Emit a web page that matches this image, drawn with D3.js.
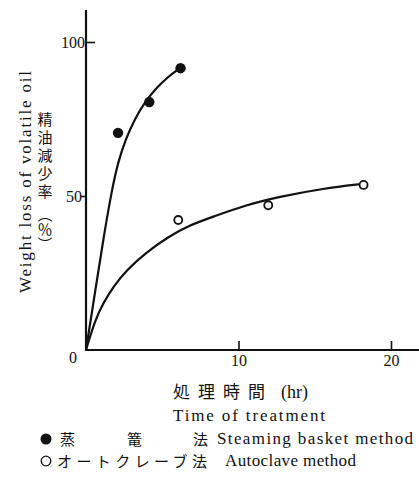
<!DOCTYPE html>
<html>
<head>
<meta charset="utf-8">
<script src="https://cdn.jsdelivr.net/npm/d3@7"></script>
<style>
  body { margin: 0; background: #fff; }
  .serif { font-family: "Liberation Serif", "DejaVu Serif", serif; fill: #111; }
  .jp { font-family: "Noto Sans CJK JP", sans-serif; fill: #111; }
  .vert { writing-mode: vertical-rl; }
</style>
</head>
<body>
<div class="chart"></div>
<script>
// measured points (hr, %)
var steamT = [2.1, 4.15, 6.2];
var steamV = [70.5, 80.5, 91.5];
var autoT = [6.05, 11.95, 18.2];
var autoV = [42.2, 47.0, 53.6];

// hand drawn fitting curves
var steamCurveT = [0, 0.6, 1.2, 1.7, 2.1, 2.6, 3.2, 3.87, 4.68, 5.33, 6.16];
var steamCurveV = [0, 19, 38, 52, 61, 68.5, 75, 80.6, 85.4, 88.5, 91.5];
var autoCurveT = [0, 0.59, 1.13, 1.79, 2.67, 3.87, 5.4, 6.82, 8.35, 10.5, 12.7, 15.6, 18.1];
var autoCurveV = [0, 9.7, 15.2, 20.6, 26, 31.4, 36.8, 40.6, 43.3, 47.1, 49.8, 52.5, 53.9];

var xTicks = [10, 20];
var yTicks = [50, 100];

var svgWidth = 419;
var svgHeight = 483;

var svg = d3.select(".chart")
  .append("svg")
  .attr("width", svgWidth)
  .attr("height", svgHeight);

var x = d3.scaleLinear().domain([0, 20]).range([86, 391]);
var y = d3.scaleLinear().domain([0, 100]).range([350, 42]);

// axes lines (drawn past the last tick like the original)
svg.append("line")
  .attr("x1", x(0)).attr("x2", x(0))
  .attr("y1", y(0) + 1).attr("y2", y(110.4))
  .attr("stroke", "#111").attr("stroke-width", 2.2);
svg.append("line")
  .attr("x1", x(0) - 1).attr("x2", x(21.9))
  .attr("y1", y(0)).attr("y2", y(0))
  .attr("stroke", "#111").attr("stroke-width", 2.2);

// x ticks point up into the plot
var xAxis = d3.axisBottom(x).tickValues(xTicks).tickSizeInner(-9).tickSizeOuter(0).tickPadding(5);
var gx = svg.append("g").attr("transform", `translate(0, ${y(0)})`).call(xAxis);
gx.select(".domain").remove();
gx.selectAll("line").attr("stroke", "#111").attr("stroke-width", 1.6);
gx.selectAll("text").attr("class", "serif").style("font-size", "16px").attr("fill", "#111");

// y ticks: 100 points in, 50 points out
var yAxis = d3.axisLeft(y).tickValues(yTicks).tickSizeOuter(0).tickSize(0).tickPadding(1);
var gy = svg.append("g").attr("transform", `translate(${x(0)}, 0)`).call(yAxis);
gy.select(".domain").remove();
gy.selectAll("text").attr("class", "serif").style("font-size", "16px").attr("fill", "#111");
gy.selectAll(".tick line")
  .attr("x1", d => d == 100 ? 0 : -5)
  .attr("x2", d => d == 100 ? 9 : 0)
  .attr("stroke", "#111").attr("stroke-width", 1.6);
gy.selectAll(".tick").filter(d => d == 50).select("text").attr("x", -4);

svg.append("text").attr("class", "serif")
  .attr("x", 73).attr("y", 363)
  .attr("text-anchor", "middle")
  .style("font-size", "16px")
  .text("0");

// curves
var line = d3.line()
  .x(d => x(d[0]))
  .y(d => y(d[1]))
  .curve(d3.curveBasis);

svg.append("path")
  .datum(steamCurveT.map((t, i) => [t, steamCurveV[i]]))
  .attr("d", line)
  .attr("fill", "none").attr("stroke", "#111").attr("stroke-width", 2.2);
svg.append("path")
  .datum(autoCurveT.map((t, i) => [t, autoCurveV[i]]))
  .attr("d", line)
  .attr("fill", "none").attr("stroke", "#111").attr("stroke-width", 2.2);

// points
svg.selectAll(".steam")
  .data(steamT.map((t, i) => [t, steamV[i]]))
  .enter().append("circle")
  .attr("class", "steam")
  .attr("cx", d => x(d[0])).attr("cy", d => y(d[1]))
  .attr("r", 5.2).attr("fill", "#111");
svg.selectAll(".auto")
  .data(autoT.map((t, i) => [t, autoV[i]]))
  .enter().append("circle")
  .attr("class", "auto")
  .attr("cx", d => x(d[0])).attr("cy", d => y(d[1]))
  .attr("r", 4).attr("fill", "#fff").attr("stroke", "#111").attr("stroke-width", 1.8);

// y axis titles
svg.append("text").attr("class", "serif")
  .attr("transform", "translate(31, 182) rotate(-90)")
  .attr("text-anchor", "middle")
  .attr("textLength", 222).attr("lengthAdjust", "spacing")
  .style("font-size", "17px")
  .text("Weight loss of volatile oil");

svg.append("text").attr("class", "jp vert")
  .attr("x", 45).attr("y", 112)
  .style("font-size", "15px")
  .style("letter-spacing", "3px")
  .text("精油減少率");
svg.append("text").attr("class", "jp vert")
  .attr("x", 45).attr("y", 207)
  .style("font-size", "15px")
  .text("（％）");

// x axis titles
svg.append("text").attr("class", "jp")
  .attr("x", 173).attr("y", 398)
  .style("font-size", "17px")
  .style("letter-spacing", "8px")
  .text("処理時間");
svg.append("text").attr("class", "serif")
  .attr("x", 281).attr("y", 398)
  .style("font-size", "18px")
  .text("(hr)");
svg.append("text").attr("class", "serif")
  .attr("x", 173).attr("y", 421)
  .style("font-size", "17px")
  .attr("textLength", 152).attr("lengthAdjust", "spacing")
  .text("Time of treatment");

// legend
var legendJp = ["蒸", "篭", "法"];
var legendJpX = [60, 127, 193];
svg.append("circle").attr("cx", 46).attr("cy", 439).attr("r", 5.5).attr("fill", "#111");
svg.selectAll(".leg1")
  .data(legendJp)
  .enter().append("text")
  .attr("class", "jp")
  .attr("x", (d, i) => legendJpX[i]).attr("y", 445)
  .style("font-size", "15px")
  .text(d => d);
svg.append("text").attr("class", "serif")
  .attr("x", 217).attr("y", 444)
  .style("font-size", "17px")
  .attr("textLength", 196).attr("lengthAdjust", "spacing")
  .text("Steaming basket method");

svg.append("circle").attr("cx", 46).attr("cy", 461).attr("r", 4.8)
  .attr("fill", "#fff").attr("stroke", "#111").attr("stroke-width", 1.3);
svg.append("text").attr("class", "jp")
  .attr("x", 57).attr("y", 467)
  .style("font-size", "15px")
  .attr("textLength", 150).attr("lengthAdjust", "spacing")
  .text("オートクレーブ法");
svg.append("text").attr("class", "serif")
  .attr("x", 225).attr("y", 466)
  .style("font-size", "17px")
  .attr("textLength", 131).attr("lengthAdjust", "spacing")
  .text("Autoclave method");
</script>
</body>
</html>
